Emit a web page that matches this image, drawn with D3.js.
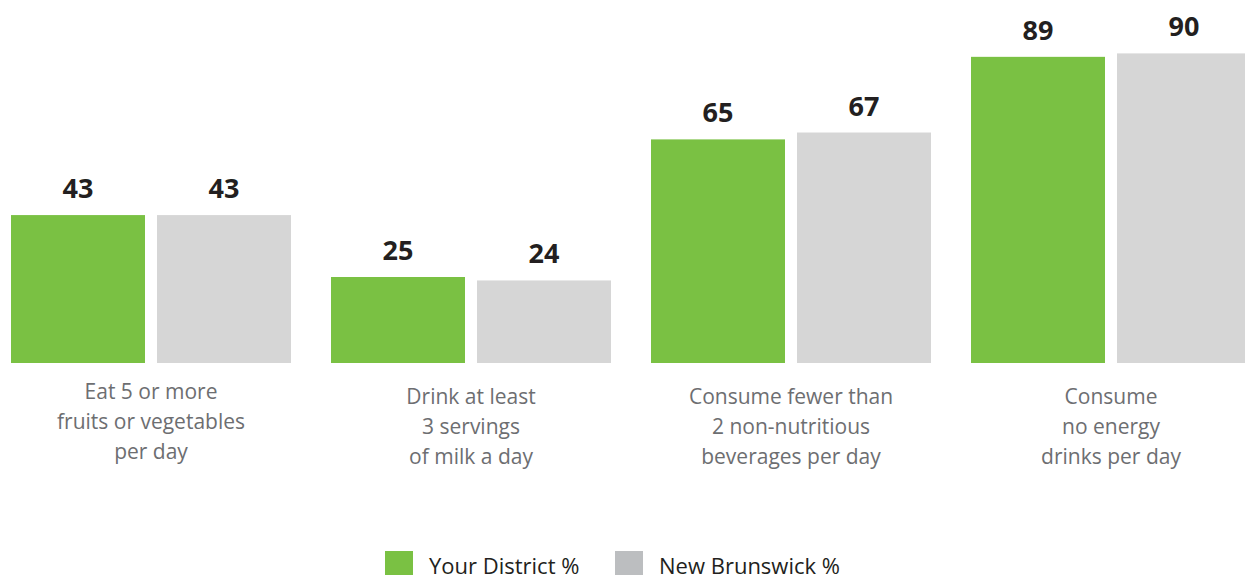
<!DOCTYPE html>
<html>
<head>
<meta charset="utf-8">
<script src="https://cdn.jsdelivr.net/npm/d3@7"></script>
<style>
  body { margin: 0; background: #fff; }
  svg { display: block; }
</style>
</head>
<body>
<svg id="chart" width="1245" height="575"></svg>
<script>
const categories = [
  ["Eat 5 or more", "fruits or vegetables", "per day"],
  ["Drink at least", "3 servings", "of milk a day"],
  ["Consume fewer than", "2 non-nutritious", "beverages per day"],
  ["Consume", "no energy", "drinks per day"]
];
const seriesNames = ["Your District %", "New Brunswick %"];
const district = [43, 25, 65, 89];
const brunswick = [43, 24, 67, 90];

const barColors = ["#7ac143", "#d6d6d6"];
const legendColors = ["#7ac143", "#bcbec0"];

const svg = d3.select("#chart");
const baseline = 363;

// group scale
const x0 = d3.scaleBand()
  .domain(d3.range(categories.length))
  .range([-9, 1271])
  .paddingInner(0.125)
  .paddingOuter(0.0625);

const x1 = d3.scaleBand()
  .domain([0, 1])
  .range([0, x0.bandwidth()])
  .paddingInner(12 / 146);

const y = d3.scaleLinear().domain([0, 100]).range([baseline, 19]);

const rows = categories.map((c, i) => ({ i, vals: [district[i], brunswick[i]] }));

const g = svg.selectAll(".grp")
  .data(rows)
  .enter().append("g")
  .attr("class", "grp")
  .attr("transform", d => `translate(${x0(d.i)},0)`);

g.selectAll("rect")
  .data(d => d.vals.map((v, s) => ({ v, s })))
  .enter().append("rect")
  .attr("x", d => x1(d.s))
  .attr("y", d => y(d.v))
  .attr("width", x1.bandwidth())
  .attr("height", d => baseline - y(d.v))
  .attr("fill", d => barColors[d.s]);

g.selectAll(".val")
  .data(d => d.vals.map((v, s) => ({ v, s })))
  .enter().append("text")
  .attr("class", "val")
  .attr("x", d => x1(d.s) + x1.bandwidth() / 2)
  .attr("y", d => y(d.v) - 17)
  .attr("text-anchor", "middle")
  .attr("font-family", "'Open Sans', sans-serif")
  .attr("font-weight", "bold")
  .attr("font-size", 27)
  .attr("fill", "#231f20")
  .text(d => d.v);

// category labels
g.append("text")
  .attr("text-anchor", "middle")
  .attr("font-family", "'Open Sans', sans-serif")
  .attr("font-size", 21)
  .attr("fill", "#6d6e71")
  .attr("transform", d => `translate(${x0.bandwidth() / 2},${d.i === 0 ? 399 : 404})`)
  .selectAll("tspan")
  .data(d => categories[d.i])
  .enter().append("tspan")
  .attr("x", 0)
  .attr("dy", (d, k) => k === 0 ? 0 : 30)
  .text(d => d);

// legend
const legendX = [385, 615];
const leg = svg.selectAll(".leg")
  .data(seriesNames)
  .enter().append("g")
  .attr("class", "leg")
  .attr("transform", (d, i) => `translate(${legendX[i]},551)`);

leg.append("rect")
  .attr("width", 28)
  .attr("height", 28)
  .attr("fill", (d, i) => legendColors[i]);

leg.append("text")
  .attr("x", 44)
  .attr("y", 23)
  .attr("font-family", "'Open Sans', sans-serif")
  .attr("font-size", 22)
  .attr("fill", "#231f20")
  .text(d => d);
</script>
</body>
</html>
